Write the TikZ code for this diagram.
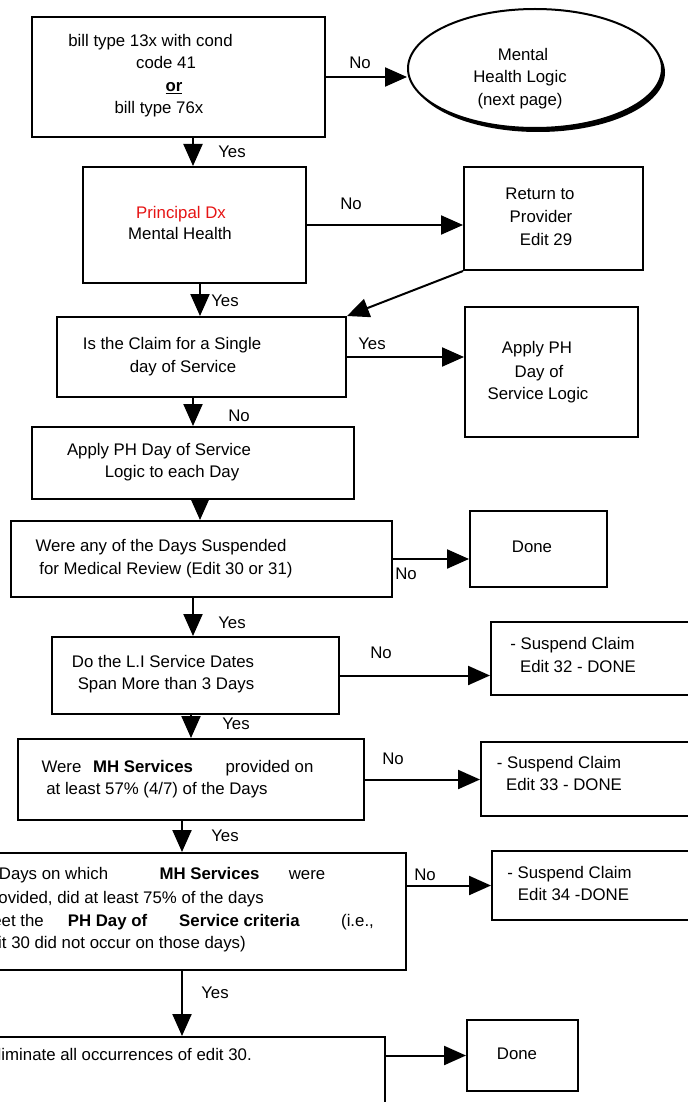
\documentclass[tikz,border=0pt]{standalone}
\usepackage{fontspec}
\setmainfont{Liberation Sans}
\usetikzlibrary{shapes}
\usetikzlibrary{arrows.meta}
\definecolor{dxred}{RGB}{230,20,20}

\begin{document}
\begin{tikzpicture}[x=0.75pt,y=-0.75pt]
	\tikzstyle{box}=[rectangle,draw,line width=1.5pt,inner sep=0pt,fill=white]
	\tikzstyle{txt}=[inner sep=0pt,text height=8.6pt,text depth=0pt,font=\fontsize{12.6}{16}\selectfont]
	\tikzstyle{arr}=[line width=1.5pt,-{Triangle[length=16.5pt,width=14.3pt]}]

	\useasboundingbox (0,0) rectangle (688,1102);
	\clip (0,0) rectangle (688,1102);

	% boxes
	\node[box,minimum width=219.75pt,minimum height=90pt] (b1) at (178.5,77) {};
	\node[ellipse,fill=black,inner sep=0pt,minimum width=190.5pt,minimum height=89.25pt] (ellsh) at (538,72.5) {};
	\node[ellipse,draw,fill=white,line width=1.5pt,inner sep=0pt,minimum width=190.5pt,minimum height=89.25pt] (ell) at (535,68.5) {};
	\node[box,minimum width=167.25pt,minimum height=87pt] (b2) at (194.5,225) {};
	\node[box,minimum width=134.25pt,minimum height=77.25pt] (ret) at (553.5,218.5) {};
	\node[box,minimum width=216.75pt,minimum height=60pt] (b3) at (201.5,357) {};
	\node[box,minimum width=129.75pt,minimum height=97.5pt] (ph) at (551.5,372) {};
	\node[box,minimum width=241.5pt,minimum height=54pt] (b4) at (193,463) {};
	\node[box,minimum width=285.75pt,minimum height=57pt] (b5) at (201.5,559) {};
	\node[box,minimum width=102.75pt,minimum height=57pt] (done1) at (538.5,549) {};
	\node[box,minimum width=215.25pt,minimum height=57.75pt] (b6) at (195.5,675.5) {};
	\node[box,minimum width=171.75pt,minimum height=54.75pt] (s1) at (605.5,658.5) {};
	\node[box,minimum width=259.5pt,minimum height=60.75pt] (b7) at (191,779.5) {};
	\node[box,minimum width=179.25pt,minimum height=55.5pt] (s2) at (600.5,779) {};
	\node[box,minimum width=327pt,minimum height=87.75pt] (b8) at (188,911.5) {};
	\node[box,minimum width=171pt,minimum height=51.75pt] (s3) at (606,885.5) {};
	\node[box,minimum width=311.25pt,minimum height=64.5pt] (b9) at (177.5,1080) {};
	\node[box,minimum width=83.25pt,minimum height=53.25pt] (done2) at (522.5,1055.5) {};

	% texts
	\foreach [count=\i] \x/\y/\t in {
		150.5/41/{bill type 13x with cond}, 166/63/{code 41}, 174/86/{\underline{\textbf{or}}}, 159/108/{bill type 76x},
		523/55/{Mental}, 520/77/{Health Logic}, 520/100/{(next page)},
		181/213/{\textcolor{dxred}{Principal Dx}}, 180/234/{Mental Health},
		540/194/{Return to}, 541/217/{Provider}, 546/240/{Edit 29},
		172/344/{Is the Claim for a Single}, 183/367/{day of Service},
		537/348/{Apply PH}, 539/372/{Day of}, 538/394/{Service Logic},
		159/450/{Apply PH Day of Service}, 172/472/{Logic to each Day},
		161/546/{Were any of the Days Suspended}, 166/569/{for Medical Review (Edit 30 or 31)},
		532/547/{Done},
		163/662/{Do the L.I Service Dates}, 166/684/{Span More than 3 Days},
		572.5/644/{- Suspend Claim}, 578/667/{Edit 32 - DONE},
		61.5/767/{Were}, 143/767/{\textbf{MH Services}}, 269.5/767/{provided on}, 157/789/{at least 57\% (4/7) of the Days},
		559/763/{- Suspend Claim}, 564/785/{Edit 33 - DONE},
		53.5/874/{Days on which}, 209.5/874/{\textbf{MH Services}}, 307/874/{were},
		107.5/921/{\textbf{PH Day of}}, 239.5/921/{\textbf{Service criteria}}, 357.5/921/{(i.e.,},
		569.5/873/{- Suspend Claim}, 573.5/895/{Edit 34 -DONE},
		517/1054/{Done}}
		\node[txt] (t\i) at (\x,\y) {\t};
	\foreach [count=\i] \x/\y/\t in {
		264/898/{provided, did at least 75\% of the days}, 44/921/{meet the},
		246/943/{edit 30 did not occur on those days)}, 252/1055/{Eliminate all occurrences of edit 30.}}
		\node[txt,anchor=east] (e\i) at (\x,\y) {\t};

	% yes / no
	\foreach [count=\i] \x/\y/\t in {360/63/No, 232/152/Yes, 351/204/No, 225/301/Yes, 372/344/Yes,
		239/416/No, 406/574/No, 232/623/Yes, 381/653/No, 236/724/Yes, 393/759/No,
		225/836/Yes, 425/875/No, 215/993/Yes}
		\node[txt] (l\i) at (\x,\y) {\t};

	% connectors
	\draw[arr] (b1.east) -- (b1.east -| ell.west);
	\draw[arr] (b1.south -| 193,0) -- (b2.north -| 193,0);
	\draw[arr] (b2.east) -- (b2.east -| ret.west);
	\draw[arr] (ret.south west) -- (b3.north east);
	\draw[arr] (b2.south -| 200,0) -- (b3.north -| 200,0);
	\draw[arr] (b3.east) -- (b3.east -| ph.west);
	\draw[arr] (b3.south -| 193,0) -- (b4.north -| 193,0);
	\draw[arr] (b4.south -| 200,0) -- (b5.north -| 200,0);
	\draw[arr] (b5.east) -- (b5.east -| done1.west);
	\draw[arr] (b5.south -| 193,0) -- (b6.north -| 193,0);
	\draw[arr] (b6.east) -- (b6.east -| s1.west);
	\draw[arr] (b6.south -| 191,0) -- (b7.north -| 191,0);
	\draw[arr] (b7.east) -- (b7.east -| s2.west);
	\draw[arr] (b7.south -| 182,0) -- (b8.north -| 182,0);
	\draw[arr] (s3.west -| b8.east) -- (s3.west);
	\draw[arr] (b8.south -| 182,0) -- (b9.north -| 182,0);
	\draw[arr] (done2.west -| b9.east) -- (done2.west);
\end{tikzpicture}
\end{document}
